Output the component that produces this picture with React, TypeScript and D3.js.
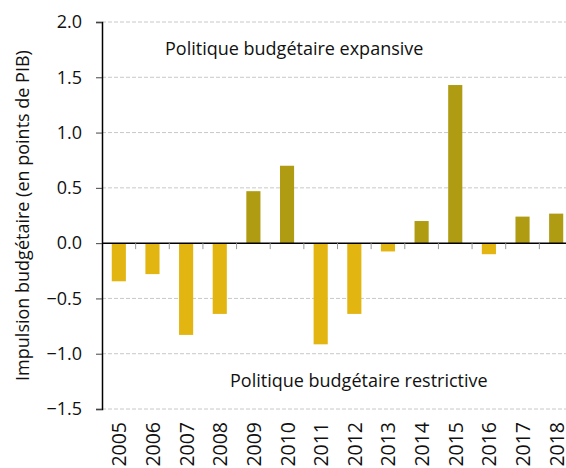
import * as d3 from 'd3';
import React, { useRef, useEffect } from 'react';

const years = ['2005', '2006', '2007', '2008', '2009', '2010', '2011', '2012', '2013', '2014', '2015', '2016', '2017', '2018'];
const impulsion = [-0.345, -0.28, -0.83, -0.64, 0.47, 0.7, -0.915, -0.64, -0.075, 0.2, 1.43, -0.1, 0.24, 0.267];
const yTicks = [-1.5, -1.0, -0.5, 0.0, 0.5, 1.0, 1.5, 2.0];

const FONT = '"Open Sans", sans-serif';

const App = () => {
    const svgRef = useRef<SVGSVGElement>(null);

    useEffect(() => {
        const svg = d3.select(svgRef.current);
        svg.selectAll('*').remove();

        const margin = { top: 22, left: 102 };
        const plotW = 471;
        const plotH = 387;

        const x = d3.scaleBand().domain(years).range([0, plotW]).paddingInner(0.58).paddingOuter(0.29);
        const y = d3.scaleLinear().domain([-1.5, 2.0]).range([plotH, 0]);

        const g = svg.append('g').attr('transform', `translate(${margin.left},${margin.top})`);

        // dashed grid
        g.append('g')
            .selectAll('line')
            .data(yTicks.filter((t) => t !== 0))
            .join('line')
            .attr('x1', 0)
            .attr('x2', plotW)
            .attr('y1', (d) => y(d))
            .attr('y2', (d) => y(d))
            .attr('stroke', '#c8c8c8')
            .attr('stroke-width', 1)
            .attr('stroke-dasharray', '4,2');

        // bars
        g.append('g')
            .selectAll('rect')
            .data(impulsion)
            .join('rect')
            .attr('x', (d, i) => x(years[i]) as number)
            .attr('width', x.bandwidth())
            .attr('y', (d) => y(Math.max(0, d)))
            .attr('height', (d) => Math.abs(y(d) - y(0)))
            .attr('fill', (d) => (d < 0 ? '#e3b511' : '#b09c13'));

        // y axis
        const yAxis = g.append('g').call(
            d3.axisLeft(y).tickValues(yTicks).tickFormat(d3.format('.1f')).tickSize(6).tickPadding(14)
        );
        yAxis.select('.domain').attr('stroke', '#000').attr('stroke-width', 1.5);
        yAxis.selectAll('.tick line').attr('stroke', '#444');
        yAxis.selectAll('.tick text')
            .attr('font-family', FONT)
            .attr('font-size', 18)
            .attr('fill', '#111')
            .text((d: any) => d3.format('.1f')(d).replace('-', '\u2212'));

        // zero line with category ticks
        const gap = x.step() - x.bandwidth();
        g.append('line')
            .attr('x1', 0)
            .attr('x2', plotW)
            .attr('y1', y(0))
            .attr('y2', y(0))
            .attr('stroke', '#000')
            .attr('stroke-width', 1.5);
        g.append('g')
            .selectAll('line')
            .data(years.slice(1))
            .join('line')
            .attr('x1', (d) => (x(d) as number) - gap / 2)
            .attr('x2', (d) => (x(d) as number) - gap / 2)
            .attr('y1', y(0))
            .attr('y2', y(0) + 6)
            .attr('stroke', '#999')
            .attr('stroke-width', 1);

        // year labels
        g.append('g')
            .selectAll('text')
            .data(years)
            .join('text')
            .attr('transform', (d) => `translate(${(x(d) as number) + x.bandwidth() / 2 + 7.5},${plotH + 13}) rotate(-90)`)
            .attr('text-anchor', 'end')
            .attr('font-family', FONT)
            .attr('font-size', 19.5)
            .attr('fill', '#111')
            .text((d) => d);

        // annotations
        g.append('text')
            .attr('x', 63)
            .attr('y', 33)
            .attr('font-family', FONT)
            .attr('font-size', 18)
            .attr('fill', '#111')
            .text('Politique budgétaire expansive');
        g.append('text')
            .attr('x', 128)
            .attr('y', 365)
            .attr('font-family', FONT)
            .attr('font-size', 18)
            .attr('fill', '#111')
            .text('Politique budgétaire restrictive');

        // y title
        svg.append('text')
            .attr('transform', `translate(29,${margin.top + y(0.25)}) rotate(-90)`)
            .attr('text-anchor', 'middle')
            .attr('font-family', FONT)
            .attr('font-size', 18)
            .attr('fill', '#111')
            .text('Impulsion budgétaire (en points de PIB)');
    }, []);

    return (
        <svg
            ref={svgRef}
            width={566}
            height={468}
            style={{ position: 'absolute', left: 0, top: 0, background: '#fff' }}
        />
    );
};

export default App;
